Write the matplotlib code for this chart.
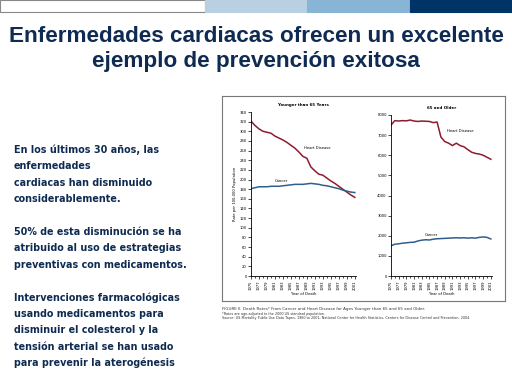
import matplotlib
matplotlib.use("Agg")
import matplotlib.pyplot as plt
import matplotlib.patches as patches
from matplotlib.ticker import MultipleLocator

W, H = 512, 384

# ---- data ----
years = list(range(1975, 2002))
heart_young = [321, 312, 305, 300, 298, 296, 290, 286, 282, 277, 271, 265, 257,
               248, 244, 226, 218, 211, 209, 203, 197, 192, 186, 180, 174, 168, 163]
cancer_young = [181, 183, 185, 185, 185, 186, 186, 186, 187, 188, 189, 190, 190,
                190, 191, 192, 191, 190, 188, 187, 185, 183, 181, 178, 176, 174, 173]
heart_old = [7500, 7720, 7700, 7720, 7710, 7750, 7700, 7680, 7700, 7690, 7680, 7620, 7650,
             6900, 6680, 6600, 6480, 6600, 6480, 6420, 6280, 6150, 6090, 6060, 6000, 5900, 5800]
cancer_old = [1500, 1580, 1600, 1630, 1650, 1670, 1680, 1740, 1780, 1800, 1790, 1830, 1850,
              1860, 1870, 1880, 1890, 1900, 1890, 1900, 1880, 1900, 1880, 1920, 1940, 1920, 1840]
year_labels = list(range(1975, 2002, 2))

title_lines = "Enfermedades cardiacas ofrecen un excelente\nejemplo de prevención exitosa"
bullets = [
    ["En los últimos 30 años, las", "enfermedades", "cardiacas han disminuido", "considerablemente."],
    ["50% de esta disminución se ha", "atribuido al uso de estrategias", "preventivas con medicamentos."],
    ["Intervenciones farmacológicas", "usando medicamentos para", "disminuir el colesterol y la",
     "tensión arterial se han usado", "para prevenir la aterogénesis"],
]
caption = ["FIGURE 6  Death Rates* From Cancer and Heart Disease for Ages Younger than 65 and 65 and Older.",
           "*Rates are age-adjusted to the 2000 US standard population.",
           "Source: US Mortality Public Use Data Tapes, 1960 to 2001, National Center for Health Statistics, Centers for Disease Control and Prevention, 2004."]

navy = "#0f2b52"
red = "#8e1b2e"
blue = "#2e5f8e"


def box(x0, y0, x1, y1):
    # pixel box (top-left origin) -> figure fraction rect
    return [x0 / W, 1 - y1 / H, (x1 - x0) / W, (y1 - y0) / H]


fig = plt.figure(figsize=(W / 100, H / 100), dpi=100)
fig.patch.set_facecolor("white")

# top colour band
band = [(0, 205, "white"), (205, 307, "#b9d0e2"), (307, 410, "#88b4d6"), (410, 512, "#003466")]
for x0, x1, c in band:
    fig.patches.append(patches.Rectangle((x0 / W, 1 - 12 / H), (x1 - x0) / W, 12 / H,
                                         transform=fig.transFigure, facecolor=c,
                                         edgecolor="#888888" if c == "white" else c, lw=0.8))

fig.text(0.5, 1 - 49 / H, title_lines, ha="center", va="center", color=navy,
         fontsize=16.2, fontweight="bold", family="Liberation Sans", linespacing=1.2)

# left text block
y = 150
for para in bullets:
    for line in para:
        fig.text(14 / W, 1 - y / H, line, ha="left", va="center", color=navy,
                 fontsize=6.9, fontweight="bold", family="DejaVu Sans")
        y += 16.4
    y += 16.4

# frame around the figure image
frame = fig.add_axes(box(222, 96, 505, 301))
frame.set_xticks([])
frame.set_yticks([])
for s in frame.spines.values():
    s.set_color("#777777")
    s.set_linewidth(0.8)
frame.patch.set_alpha(0)

small = 2.7


def panel(rect, heart, cancer, ymax, ystep, title, hd_pos, ca_pos, ylabel=None):
    ax = fig.add_axes(rect)
    ax.plot(years, heart, color=red, lw=1.1)
    ax.plot(years, cancer, color=blue, lw=1.1)
    ax.set_xlim(1975, 2001.3)
    ax.set_ylim(0, ymax)
    ax.yaxis.set_major_locator(MultipleLocator(ystep))
    ax.set_xticks(years, minor=True)
    ax.set_xticks(year_labels)
    ax.set_xticklabels([str(v) for v in year_labels], rotation=90)
    ax.tick_params(labelsize=small, length=2, width=0.5, pad=1)
    ax.tick_params(which="minor", length=1.5, width=0.5)
    for s in ["top", "right"]:
        ax.spines[s].set_visible(False)
    for s in ["left", "bottom"]:
        ax.spines[s].set_linewidth(0.6)
    ax.set_title(title, fontsize=small + 0.2, fontweight="bold", pad=4)
    ax.set_xlabel("Year of Death", fontsize=small, labelpad=2)
    if ylabel:
        ax.set_ylabel(ylabel, fontsize=small, labelpad=2)
    ax.text(hd_pos[0], hd_pos[1], "Heart Disease", fontsize=small, ha="left", va="center")
    ax.text(ca_pos[0], ca_pos[1], "Cancer", fontsize=small, ha="left", va="center")
    return ax


panel(box(251, 112, 356, 276), heart_young, cancer_young, 340, 20, "Younger than 65 Years",
      (1988.4, 266), (1981, 196), "Rate per 100,000 Population")
panel(box(391, 115, 492, 276), heart_old, cancer_old, 8000, 1000, "65 and Older",
      (1989.6, 7200), (1983.8, 2050))

cy = 309
for i, line in enumerate(caption):
    fig.text(222 / W, 1 - cy / H, line, fontsize=2.4 if i else 2.9, ha="left", va="center",
             color="#333333")
    cy += 4.6

fig.savefig("out.png", dpi=100)
